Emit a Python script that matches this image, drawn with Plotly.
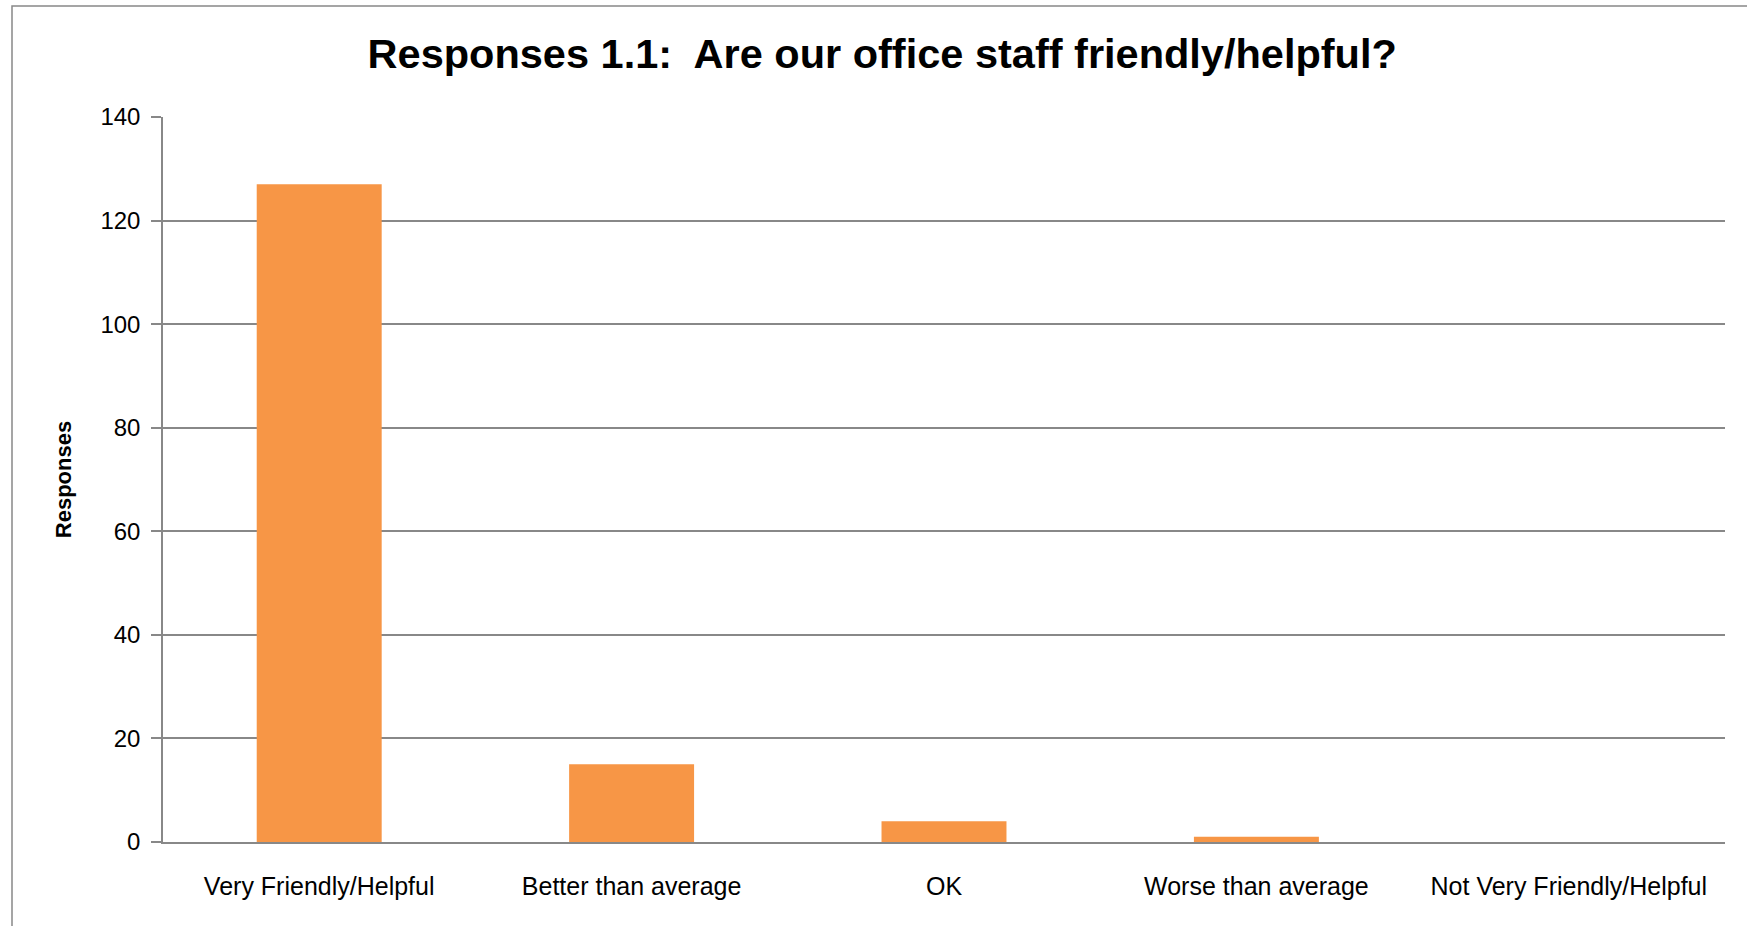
import plotly.graph_objects as go

categories = ["Very Friendly/Helpful", "Better than average", "OK",
              "Worse than average", "Not Very Friendly/Helpful"]
responses = [127, 15, 4, 1, 0]
y_ticks = [0, 20, 40, 60, 80, 100, 120, 140]

title_text = "Responses 1.1:  Are our office staff friendly/helpful?"
y_title = "Responses"

BAR = "#F79646"
GRID = "#888888"
FONT = "Liberation Sans, Arial, sans-serif"

fig = go.Figure(go.Bar(x=categories, y=responses, marker_color=BAR,
                       marker_line_width=0, width=0.4))

fig.update_layout(
    width=1747, height=926,
    margin=dict(l=163, r=22, t=117, b=84),
    paper_bgcolor="white", plot_bgcolor="white",
    showlegend=False,
    font=dict(family=FONT, color="black"),
    title=dict(text="<b>" + title_text + "</b>", x=0.505, xanchor="center",
               y=1 - 53 / 926, yanchor="middle",
               font=dict(size=41.5, family=FONT, color="black")),
    bargap=0.6,
)

fig.update_yaxes(
    range=[0, 140], tickvals=y_ticks, showgrid=True, gridcolor=GRID, gridwidth=1.5,
    showline=True, linecolor=GRID, linewidth=1.5,
    ticks="outside", ticklen=10, tickcolor=GRID, tickwidth=1.5,
    tickfont=dict(size=24, family=FONT, color="black"),
    ticklabelstandoff=6,
    zeroline=False,
    title=dict(text="<b>" + y_title + "</b>", font=dict(size=22, family=FONT, color="black"),
               standoff=23),
)

fig.update_xaxes(
    showline=True, linecolor=GRID, linewidth=2,
    ticks="", showgrid=False,
    tickfont=dict(size=25, family=FONT, color="black"),
    ticklabelstandoff=21,
)

# outer chart border
fig.add_shape(type="rect", xref="paper", yref="paper",
              x0=(12 - 163) / 1562, x1=1.03, y0=-0.2, y1=1 + (117 - 6) / 725,
              line=dict(color=GRID, width=1.5), fillcolor="rgba(0,0,0,0)", layer="below")

fig.write_html("out.html")
